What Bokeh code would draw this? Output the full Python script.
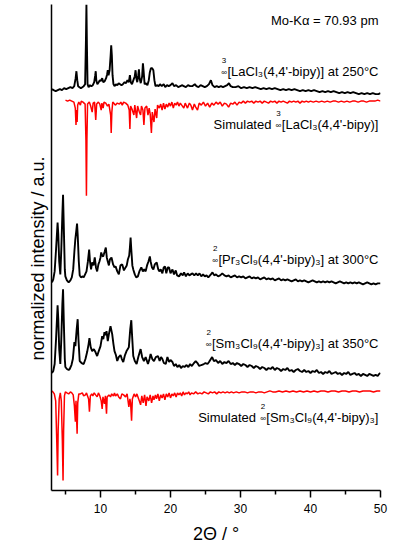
import math
from bokeh.plotting import figure
from bokeh.models import FixedTicker, Range1d, Title
from bokeh.core.properties import value
from bokeh.embed import file_html
from bokeh.resources import INLINE

# ---------------- data (2Theta in degrees, intensity in a.u.) ----------------
la_exp_x = [3.07,3.3,3.6,3.9,4.2,4.5,4.8,5.1,5.4,5.7,6.0,6.25,6.45,6.56,6.68,6.8,7.0,7.2,7.4,7.6,7.8,7.92,7.99,8.06,8.15,8.3,8.5,8.7,8.9,9.1,9.25,9.32,9.4,9.55,9.75,9.9,10.05,10.24,10.4,10.6,10.8,10.95,11.04,11.15,11.3,11.45,11.53,11.62,11.72,11.85,12.0,12.2,12.4,12.6,12.8,13.0,13.2,13.45,13.65,13.85,14.05,14.2,14.32,14.5,14.7,14.9,15.01,15.12,15.25,15.4,15.49,15.58,15.75,15.95,16.06,16.15,16.3,16.5,16.7,16.9,17.05,17.2,17.38,17.55,17.7,17.85,18.05,18.3,18.5,18.75,19.03,19.25,19.5,19.75,20.0,20.28,20.5,20.8,21.1,21.4,21.7,21.9,22.2,22.5,22.8,23.1,23.47,23.7,24.0,24.3,24.6,24.9,25.2,25.5,25.77,26.0,26.3,26.6,26.9,27.2,27.5,27.8,28.1,28.35,28.6,28.9,29.3,29.7,30.1,30.5,30.9,31.3,31.7,32.1,32.5,32.9,33.3,33.7,34.1,34.5,34.9,35.3,35.7,36.1,36.5,36.9,37.3,37.7,38.1,38.5,38.9,39.3,39.7,40.1,40.5,40.9,41.3,41.7,42.1,42.5,42.9,43.3,43.7,44.1,44.5,44.9,45.3,45.7,46.1,46.5,46.9,47.3,47.7,48.1,48.5,48.9,49.3,49.7,50.0]
la_exp_y = [4,3,2,3,4,3,5,4,5,6,5,7,15,22,13,7,6,5,6,7,9,53,89,48,9,6,8,7,8,11,18,22,13,9,11,13,12,15,11,12,15,19,23,18,23,38,48,38,18,9,7,9,8,10,9,8,9,11,10,13,11,18,11,9,13,17,23,15,11,18,24,15,10,17,30,23,9,10,8,13,21,25,25,23,13,7,8,7,9,7,9,6,8,7,8,10,7,8,6,7,8,7,6,8,7,7,9,7,6,8,7,6,7,9,13,8,6,7,6,7,6,7,8,10,7,6,6,7,5,6,5,6,5,6,5,4,5,4,5,4,5,4,3,4,3,4,3,4,3,2,3,2,3,2,3,2,1,2,1,2,1,2,1,0,1,0,1,0,1,0,-1,0,-1,0,-1,0,-1,-1,0]

la_sim_x = [5.0,5.3,5.6,5.9,6.2,6.4,6.5,6.58,6.66,6.74,6.9,7.13,7.25,7.5,7.8,7.92,7.99,8.06,8.15,8.4,8.6,8.81,8.95,9.15,9.32,9.45,9.7,9.9,10.1,10.2,10.38,10.5,10.75,11.0,11.2,11.45,11.53,11.62,11.75,12.0,12.15,12.4,12.7,12.9,13.11,13.3,13.6,13.9,14.1,14.2,14.3,14.5,14.77,14.9,15.16,15.3,15.55,15.73,15.85,16.06,16.2,16.35,16.6,16.78,16.95,17.1,17.27,17.4,17.64,17.8,18.03,18.15,18.4,18.6,18.8,19.0,19.2,19.4,19.6,19.8,20.0,20.2,20.4,20.6,20.8,21.0,21.2,21.4,21.6,21.9,22.1,22.43,22.7,22.9,23.14,23.4,23.6,23.86,24.1,24.4,24.7,25.0,25.3,25.6,25.9,26.2,26.5,26.8,27.1,27.4,27.7,28.0,28.3,28.6,28.9,29.2,29.5,29.8,30.1,30.4,30.7,31.0,31.3,31.6,31.9,32.2,32.5,32.8,33.1,33.4,33.7,34.0,34.3,34.6,34.9,35.2,35.5,35.8,36.1,36.4,36.7,37.0,37.3,37.6,37.9,38.2,38.5,38.8,39.1,39.4,39.7,40.0,40.4,40.8,41.2,41.6,42.0,42.4,42.8,43.2,43.6,44.0,44.4,44.8,45.2,45.6,46.0,46.4,46.8,47.2,47.6,48.0,48.4,48.8,49.2,49.6,50.0]
la_sim_y = [0,1,0,1,2,8,25,10,22,5,2,5,1,2,4,40,96,40,4,2,6,12,3,2,20,4,2,4,10,3,8,2,3,6,4,15,33,12,2,4,5,3,4,2,5,2,3,5,10,29,6,9,15,5,18,6,12,15,6,10,25,8,6,15,8,14,33,12,22,9,18,5,8,4,10,3,9,4,7,3,6,2,8,3,5,2,6,3,5,8,3,8,3,5,10,4,7,10,3,5,2,6,3,7,3,5,2,4,2,6,3,4,7,3,4,2,5,2,3,1,3,1,2,1,3,1,2,1,3,1,2,3,1,2,1,3,1,2,1,2,3,1,2,1,2,1,3,1,2,1,2,1,2,1,2,1,2,1,2,1,1,2,1,2,1,2,1,1,2,1,1,2,1,1,1,0,1]

pr_exp_x = [3.07,3.25,3.45,3.65,3.87,3.97,4.1,4.26,4.4,4.55,4.65,4.75,4.9,4.98,5.2,5.45,5.7,5.9,6.1,6.27,6.4,6.56,6.65,6.74,6.9,7.03,7.2,7.45,7.6,7.8,8.0,8.2,8.38,8.5,8.65,8.81,9.0,9.18,9.35,9.52,9.7,9.85,10.0,10.1,10.24,10.38,10.47,10.6,10.76,10.9,11.04,11.2,11.35,11.57,11.8,12.0,12.15,12.4,12.62,12.85,13.11,13.35,13.58,13.75,13.91,14.1,14.2,14.3,14.4,14.55,14.68,14.9,15.1,15.34,15.55,15.83,16.05,16.25,16.45,16.65,16.85,17.05,17.16,17.35,17.55,17.75,18.03,18.25,18.4,18.6,18.84,19.03,19.21,19.4,19.6,19.79,20.0,20.28,20.5,20.75,20.95,21.22,21.5,21.75,21.94,22.2,22.45,22.7,22.9,23.14,23.4,23.65,23.9,24.15,24.4,24.65,24.9,25.15,25.4,25.77,26.0,26.25,26.5,26.8,27.1,27.4,27.7,28.0,28.3,28.6,28.9,29.2,29.5,29.8,30.1,30.4,30.7,31.0,31.3,31.6,31.9,32.2,32.5,32.8,33.1,33.4,33.7,34.0,34.3,34.6,34.9,35.2,35.5,35.8,36.1,36.4,36.7,37.0,37.3,37.6,37.9,38.2,38.5,38.8,39.1,39.4,39.7,40.0,40.3,40.6,40.9,41.2,41.5,41.8,42.1,42.4,42.7,43.0,43.3,43.6,43.9,44.2,44.5,44.8,45.1,45.4,45.7,46.0,46.3,46.6,46.9,47.2,47.5,47.8,48.1,48.4,48.7,49.0,49.3,49.6,50.0]
pr_exp_y = [1,4,12,34,61,49,22,9,34,69,89,59,14,7,3,1,3,6,14,32,44,54,60,49,22,8,6,7,6,9,12,22,34,22,14,21,18,26,16,12,19,22,26,31,28,27,29,32,36,26,22,18,24,26,19,16,17,12,9,18,19,13,16,18,24,28,36,46,34,18,14,9,6,7,12,16,12,14,12,18,22,27,22,16,14,19,21,14,12,14,10,16,17,10,16,16,10,14,9,13,8,7,10,8,11,7,10,8,9,10,8,10,8,10,7,9,7,8,6,9,11,8,9,7,8,10,8,7,8,6,7,8,6,7,6,7,5,6,7,5,6,5,6,4,5,6,4,5,4,5,3,4,5,3,4,3,4,3,2,3,4,2,3,2,3,2,1,2,3,2,1,2,1,2,1,2,1,2,1,0,1,2,1,0,1,0,1,0,1,0,1,0,-1,0,1,0,-1,0,-1,0,0]

sm_exp_x = [3.07,3.25,3.45,3.65,3.87,3.97,4.1,4.26,4.4,4.55,4.65,4.75,4.9,4.98,5.2,5.45,5.6,5.85,6.05,6.27,6.41,6.6,6.74,6.85,7.03,7.3,7.6,7.85,8.09,8.3,8.42,8.6,8.81,9.05,9.28,9.52,9.75,10.0,10.24,10.4,10.57,10.7,10.86,11.04,11.2,11.43,11.67,11.85,12.0,12.2,12.39,12.6,12.86,13.05,13.25,13.5,13.72,13.9,14.05,14.25,14.4,14.5,14.68,14.9,15.16,15.4,15.73,15.95,16.2,16.45,16.78,17.0,17.16,17.4,17.64,17.9,18.21,18.45,18.65,18.84,19.05,19.32,19.56,19.8,20.0,20.28,20.5,20.75,20.99,21.25,21.5,21.75,22.0,22.3,22.55,22.8,23.05,23.35,23.6,23.85,24.1,24.4,24.76,25.0,25.29,25.5,25.77,25.95,26.2,26.5,26.8,27.1,27.4,27.7,28.0,28.3,28.6,28.9,29.2,29.5,29.8,30.1,30.4,30.7,31.0,31.3,31.6,31.9,32.2,32.5,32.8,33.1,33.4,33.7,34.0,34.3,34.6,34.9,35.2,35.5,35.8,36.1,36.4,36.7,37.0,37.3,37.6,37.9,38.2,38.5,38.8,39.1,39.4,39.7,40.0,40.3,40.6,40.9,41.2,41.5,41.8,42.1,42.4,42.7,43.0,43.3,43.6,43.9,44.2,44.5,44.8,45.1,45.4,45.7,46.0,46.3,46.6,46.9,47.2,47.5,47.8,48.1,48.4,48.7,49.0,49.3,49.6,49.8,50.0]
sm_exp_y = [2,4,11,36,70,56,26,11,36,71,86,56,16,8,6,5,6,10,16,33,29,46,56,36,14,12,11,16,23,31,37,28,24,26,23,19,24,29,39,36,43,40,44,34,41,49,41,31,24,20,14,18,20,16,13,20,24,26,28,46,55,41,19,14,11,18,26,18,14,18,11,16,21,16,14,18,19,14,18,16,12,11,18,13,15,13,9,11,8,10,7,9,8,10,8,11,9,12,14,12,9,10,11,12,11,13,16,18,14,15,12,14,11,13,12,14,11,12,10,12,11,9,11,10,8,10,9,7,9,8,6,8,7,5,7,6,8,5,7,6,4,6,5,7,4,5,3,5,6,4,3,5,3,4,2,4,3,5,2,3,1,3,2,4,1,2,3,1,2,0,2,1,3,0,1,2,0,1,-1,1,0,-1,1,0,-1,0,-1,1,2]

sm_sim_x = [3.0,3.2,3.4,3.6,3.75,3.87,3.95,4.1,4.26,4.4,4.55,4.65,4.73,4.85,4.98,5.2,5.45,5.7,5.9,6.1,6.27,6.41,6.5,6.66,6.75,6.9,7.13,7.4,7.6,7.85,8.0,8.3,8.42,8.55,8.75,8.9,9.1,9.3,9.52,9.7,9.9,10.1,10.24,10.35,10.57,10.7,10.86,10.95,11.2,11.43,11.6,11.85,12.0,12.15,12.4,12.6,12.86,13.05,13.3,13.58,13.8,14.05,14.2,14.3,14.44,14.55,14.8,15.01,15.2,15.45,15.73,15.9,16.1,16.3,16.5,16.65,16.9,17.1,17.3,17.5,17.64,17.85,18.0,18.2,18.4,18.6,18.8,19.0,19.2,19.4,19.6,19.8,20.0,20.2,20.4,20.6,20.8,21.0,21.2,21.4,21.6,21.8,22.0,22.2,22.4,22.6,22.8,23.0,23.3,23.6,23.9,24.2,24.5,24.8,25.1,25.4,25.7,26.0,26.3,26.6,26.9,27.2,27.5,27.8,28.1,28.4,28.7,29.0,29.4,29.8,30.2,30.6,31.0,31.4,31.8,32.2,32.6,33.0,33.4,33.8,34.2,34.6,35.0,35.5,36.0,36.5,37.0,37.5,38.0,38.5,39.0,39.5,40.0,40.5,41.0,41.5,42.0,42.5,43.0,43.5,44.0,44.5,45.0,45.5,46.0,46.5,47.0,47.5,48.0,48.5,49.0,49.5,50.0]
sm_sim_y = [0,1,3,10,50,85,40,8,2,10,50,90,40,5,1,2,3,1,2,4,15,31,10,43,12,3,3,2,5,4,2,8,21,5,3,5,2,4,6,2,5,10,18,6,13,5,23,6,4,6,3,5,2,5,3,6,8,3,4,6,3,16,8,12,30,8,3,6,3,8,14,5,12,4,15,6,10,4,12,5,9,4,8,3,10,4,7,3,9,3,6,2,7,3,5,2,6,2,4,2,5,1,4,2,3,1,4,2,3,1,3,2,3,1,2,3,1,2,1,3,1,2,1,2,1,2,1,2,1,2,1,1,2,1,1,2,1,1,2,1,0,1,1,0,1,0,1,0,1,0,1,0,1,0,1,0,0,1,0,0,1,0,0,1,0,0,1,0,0,0,1,0,0]

# vertical offsets of the stacked patterns (a.u.)
la_exp_off, la_sim_off = 399, 392
pr_exp_off = 208
sm_exp_off, sm_sim_off = 116, 100

x_ticks = [10, 20, 30, 40, 50]
x_minor = [5, 15, 25, 35, 45]

x_title = "2\u0398 / °"
y_title = "normalized intensity / a.u."

# annotation texts: (main text, baseline y, stacked superscript, leading word)
labels = [
    ("[LaCl\u2083(4,4'-bipy)] at 250°C", 421, "3", None),
    ("[LaCl\u2083(4,4'-bipy)]", 368, "3", "Simulated"),
    ("[Pr\u2083Cl\u2089(4,4'-bipy)\u2083] at 300°C", 232, "2", None),
    ("[Sm\u2083Cl\u2089(4,4'-bipy)\u2083] at 350°C", 148, "2", None),
    ("[Sm\u2083Cl\u2089(4,4'-bipy)\u2083]", 73, "2", "Simulated"),
]
wavelength_text = "Mo-K\u03b1 = 70.93 pm"

FONT = "Liberation Sans"

# Arial / Liberation Sans advance widths (1/1000 em)
W = {' ': 278, "'": 191, '(': 333, ')': 333, ',': 278, '-': 333, '.': 278, '/': 278,
     '=': 584, '[': 278, ']': 278, '°': 400, 'C': 722, 'K': 667, 'L': 556, 'M': 833,
     'P': 667, 'S': 667, 'a': 556, 'b': 556, 'd': 556, 'e': 556, 'i': 222, 'l': 222,
     'm': 833, 'p': 556, 'r': 333, 's': 500, 't': 278, 'u': 556, 'y': 500, 'o': 556,
     'n': 556, 'z': 500, '\u2083': 400, '\u2089': 400}


def text_width(s, size):
    return sum(W.get(c, 556) for c in s) * size / 1000.0


p = figure(width=390, height=549, output_backend="svg", toolbar_location=None,
           x_range=Range1d(3, 50), y_range=Range1d(0, 488),
           min_border_left=51, min_border_right=10, min_border_top=4, min_border_bottom=57)
p.outline_line_color = None
p.xgrid.visible = False
p.ygrid.visible = False
p.background_fill_color = "white"
p.border_fill_color = "white"

# patterns
p.line(la_exp_x, [la_exp_off + v for v in la_exp_y], line_color="black", line_width=1.9)
p.line(la_sim_x, [la_sim_off - v for v in la_sim_y], line_color="#ff0000", line_width=1.5)
p.line(pr_exp_x, [pr_exp_off + v for v in pr_exp_y], line_color="black", line_width=1.9)
p.line(sm_exp_x, [sm_exp_off + v for v in sm_exp_y], line_color="black", line_width=1.9)
p.line(sm_sim_x, [sm_sim_off - v for v in sm_sim_y], line_color="#ff0000", line_width=1.5)

# x axis
xa = p.xaxis[0]
xa.ticker = FixedTicker(ticks=x_ticks, minor_ticks=x_minor)
xa.axis_line_width = 1.5
xa.major_tick_line_width = 1.5
xa.minor_tick_line_width = 1.5
xa.major_tick_out = 7
xa.major_tick_in = 0
xa.minor_tick_out = 4
xa.minor_tick_in = 0
xa.major_label_text_font = FONT
xa.major_label_text_font_size = "12px"
xa.major_label_text_color = "black"
xa.major_label_standoff = 6

# y axis: line only
ya = p.yaxis[0]
ya.ticker = FixedTicker(ticks=[])
ya.major_label_text_font_size = "0px"
ya.major_tick_line_color = None
ya.minor_tick_line_color = None
ya.axis_line_width = 1.5

# axis titles
p.add_layout(Title(text=x_title, align="center", vertical_align="bottom", text_font=FONT,
                   text_font_size="18px", text_font_style="normal", text_color="black",
                   text_line_height=0.7, standoff=12), "below")
p.add_layout(Title(text=y_title, align="left", offset=130, text_font=FONT,
                   text_font_size="18px", text_font_style="normal", text_color="black",
                   standoff=8), "left")

# annotations
x_right = 49.71
p.text(x=[x_right], y=[472], text=[wavelength_text], text_align="right",
       text_baseline="alphabetic", text_font=value(FONT), text_font_size=value("13px"),
       text_color="black")

for main, yb, sup, word in labels:
    w = text_width(main, 13)
    p.text(x=[x_right], y=[yb], text=[main], text_align="right", text_baseline="alphabetic",
           text_font=value(FONT), text_font_size=value("13px"), text_color="black")
    cx = -(w + 3.5)
    p.text(x=[x_right], y=[yb + 11], text=[sup], x_offset=[cx], text_align="center",
           text_baseline="alphabetic", text_font=value(FONT), text_font_size=value("8px"),
           text_color="black")
    p.text(x=[x_right], y=[yb - 1], text=["\u221e"], x_offset=[cx], text_align="center",
           text_baseline="alphabetic", text_font=value(FONT), text_font_size=value("8px"),
           text_color="black")
    if word:
        p.text(x=[x_right], y=[yb], text=[word], x_offset=[-(w + 10.5)], text_align="right",
               text_baseline="alphabetic", text_font=value(FONT), text_font_size=value("13px"),
               text_color="black")

open("out.html", "w").write(file_html(p, INLINE))
